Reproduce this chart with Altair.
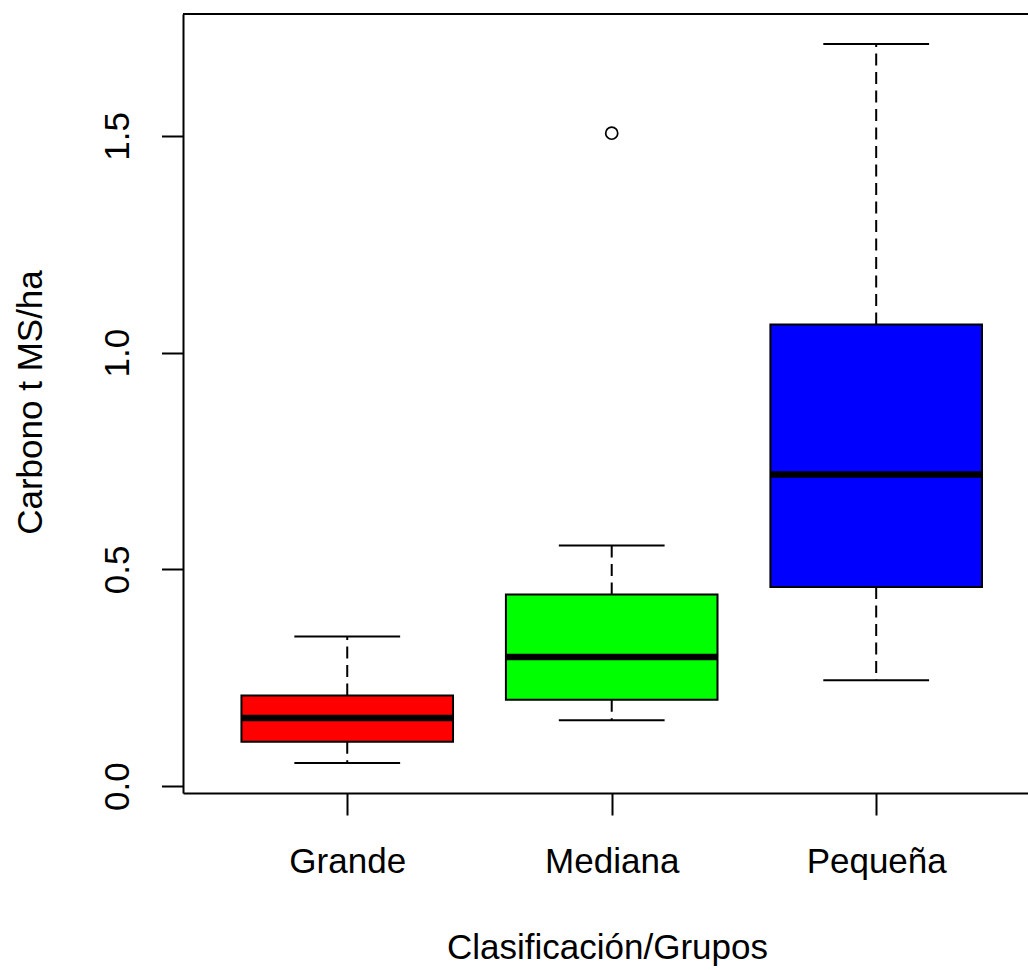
import altair as alt
import pandas as pd

# ---- data ----
groups = ["Grande", "Mediana", "Pequeña"]
whisker_low = [0.053, 0.152, 0.244]
q1 = [0.102, 0.199, 0.459]
median = [0.157, 0.298, 0.719]
q3 = [0.209, 0.442, 1.065]
whisker_high = [0.345, 0.555, 1.712]
outlier_groups = ["Mediana"]
outlier_values = [1.506]
box_colors = ["#FF0000", "#00FF00", "#0000FF"]
y_ticks = [0.0, 0.5, 1.0, 1.5]

FONT = "Liberation Sans"
FS = 35
W, H = 845, 779

stats = pd.DataFrame({
    "grupo": groups,
    "pos": [i + 1 for i in range(len(groups))],
    "low": whisker_low, "q1": q1, "med": median, "q3": q3, "high": whisker_high,
})
outl = pd.DataFrame({
    "grupo": outlier_groups,
    "pos": [groups.index(g) + 1 for g in outlier_groups],
    "val": outlier_values,
})

label_expr = " : ".join(
    [f"datum.value == {i + 1} ? '{g}'" for i, g in enumerate(groups[:-1])]
) + f" : '{groups[-1]}'"

xscale = alt.Scale(domain=[0.379, 3.574], nice=False, zero=False)
yscale = alt.Scale(domain=[-0.016, 1.781], nice=False, zero=False)

xaxis = alt.Axis(
    values=[1, 2, 3], labelExpr=label_expr, grid=False,
    domain=True, domainColor="black", domainWidth=2,
    ticks=True, tickColor="black", tickWidth=2, tickSize=22,
    labelFont=FONT, labelFontSize=FS, labelColor="black",
    labelBaseline="alphabetic", labelAlign="center", labelPadding=57,
    labelFlush=False, labelOverlap=False,
    title="Clasificación/Grupos", titleFont=FONT, titleFontSize=FS,
    titleFontWeight="normal", titleColor="black",
    titleBaseline="alphabetic", titleAlign="center",
    titleX=424, titleY=165, titleAngle=0,
)
yaxis = alt.Axis(
    values=y_ticks, format=".1f", grid=False,
    domain=True, domainColor="black", domainWidth=2,
    ticks=True, tickColor="black", tickWidth=2, tickSize=21.5,
    labelFont=FONT, labelFontSize=FS, labelColor="black",
    labelAngle=270, labelAlign="center", labelBaseline="alphabetic",
    labelPadding=33.5, labelFlush=False, labelOverlap=False,
    title="Carbono t MS/ha", titleFont=FONT, titleFontSize=FS,
    titleFontWeight="normal", titleColor="black",
    titleAngle=270, titleAlign="center", titleBaseline="alphabetic",
    titleX=-141.3, titleY=388,
)


def X(field):
    return alt.X(f"{field}:Q", scale=xscale, axis=xaxis)


def Y(field):
    return alt.Y(f"{field}:Q", scale=yscale, axis=yaxis)


base = alt.Chart(stats).transform_calculate(
    lo="datum.pos - 0.4", hi="datum.pos + 0.4",
    clo="datum.pos - 0.2", chi="datum.pos + 0.2",
)

dash = dict(strokeDash=[12, 6.5], strokeWidth=2, color="black")
whisk_up = base.mark_rule(**dash).encode(x=X("pos"), y=Y("q3"), y2="high:Q")
whisk_dn = base.mark_rule(**dash).encode(x=X("pos"), y=Y("q1"), y2="low:Q")

cap_up = base.mark_rule(strokeWidth=2, color="black").encode(
    x=X("clo"), x2="chi:Q", y=Y("high"))
cap_dn = base.mark_rule(strokeWidth=2, color="black").encode(
    x=X("clo"), x2="chi:Q", y=Y("low"))

box = base.mark_rect(stroke="black", strokeWidth=2).encode(
    x=X("lo"), x2="hi:Q", y=Y("q1"), y2="q3:Q",
    color=alt.Color("grupo:N", scale=alt.Scale(domain=groups, range=box_colors),
                    legend=None),
)
med = base.mark_rule(strokeWidth=6.5, color="black").encode(
    x=X("lo"), x2="hi:Q", y=Y("med"))

pts = alt.Chart(outl).mark_point(
    shape="circle", filled=False, size=145, strokeWidth=1.7, color="black", opacity=1
).encode(x=X("pos"), y=Y("val"))

top = alt.Chart(pd.DataFrame({"k": [0]})).mark_rule(
    strokeWidth=2, color="black").encode(
    x=alt.value(0), x2=alt.value(W), y=alt.value(0))

chart = alt.layer(whisk_up, whisk_dn, cap_up, cap_dn, box, med, pts, top).properties(
    width=W, height=H,
    autosize=alt.AutoSizeParams(type="none"),
    padding={"left": 183, "top": 14, "right": 0, "bottom": 177},
    background="white",
).configure_view(stroke=None)

chart.save("out.html", embed_options={"renderer": "svg", "actions": False})
